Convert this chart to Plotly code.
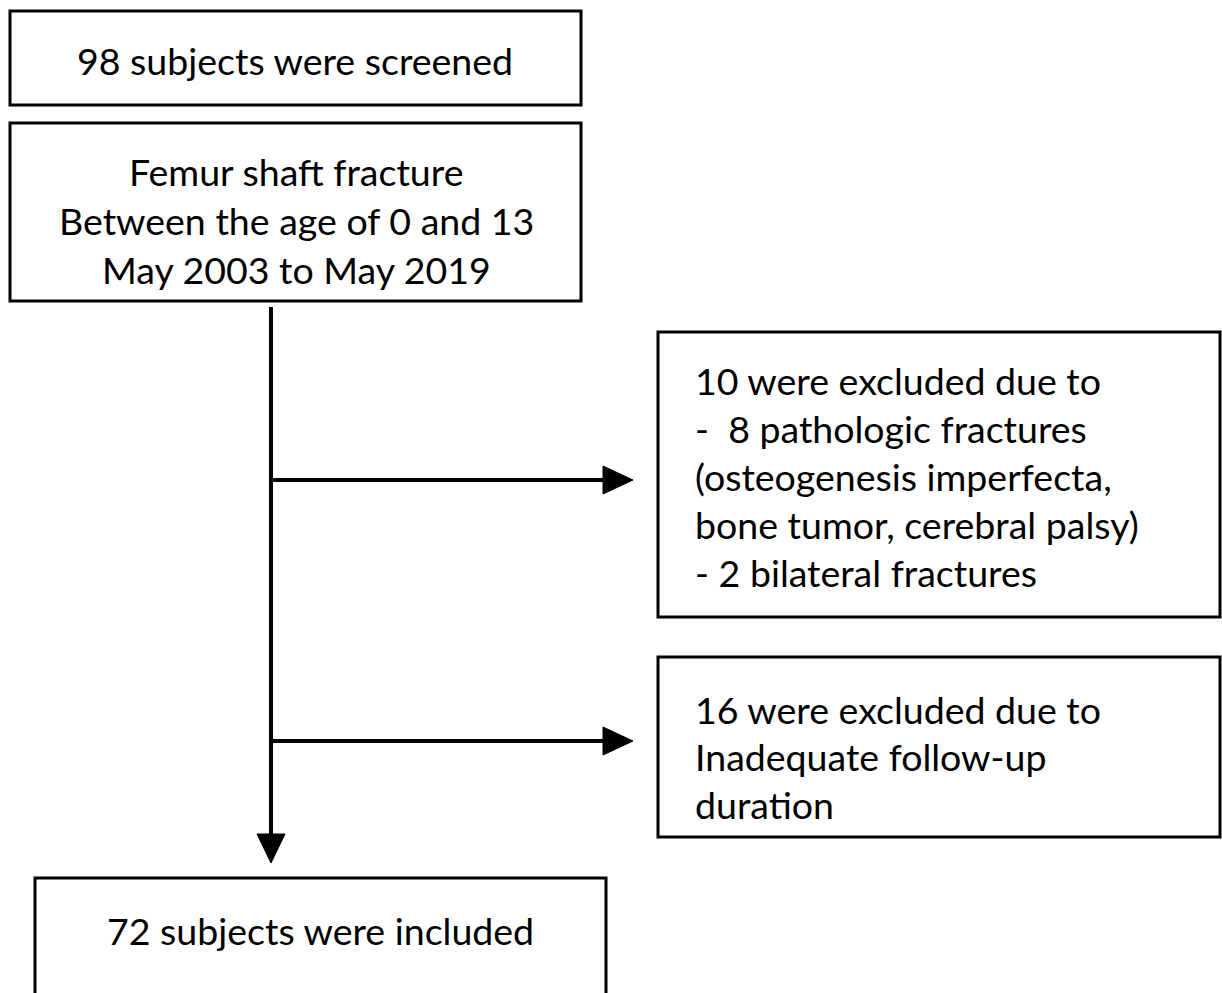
import plotly.graph_objects as go

# ---- content ----
box_screened = ["98 subjects were screened"]
box_criteria = ["Femur shaft fracture", "Between the age of 0 and 13", "May 2003 to May 2019"]
box_excl1 = ["10 were excluded due to", "-  8 pathologic fractures", "(osteogenesis imperfecta,",
             "bone tumor, cerebral palsy)", "- 2 bilateral fractures"]
box_excl2 = ["16 were excluded due to", "Inadequate follow-up", "duration"]
box_included = ["72 subjects were included"]

# ---- layout geometry (pixels) ----
W, H = 1222, 993
FONT = dict(family="Lato, Open Sans, sans-serif", size=37.5, color="black")

boxes = [
    # x0, y0, x1, y1, lines, align, text_x, first_y, spacing
    (10, 11, 581, 105, box_screened, "center", 295, 60, 49),
    (10, 123, 581, 301, box_criteria, "center", 296, 171, 49),
    (658, 332, 1220, 617, box_excl1, "left", 693, 380, 48),
    (658, 657, 1220, 837, box_excl2, "left", 693, 709, 47.5),
    (35, 878, 606, 1005, box_included, "center", 320, 930, 49),
]

shapes = []
annotations = []
for x0, y0, x1, y1, lines, align, tx, ty, sp in boxes:
    shapes.append(dict(type="rect", x0=x0, y0=y0, x1=x1, y1=y1, xref="x", yref="y",
                       line=dict(color="black", width=3), fillcolor="white", layer="below"))
    for i, t in enumerate(lines):
        annotations.append(dict(x=tx, y=ty + i * sp, xref="x", yref="y", text=t,
                                showarrow=False, font=FONT,
                                xanchor="center" if align == "center" else "left",
                                yanchor="middle"))

LW = 4
vx = 271
# vertical trunk
shapes.append(dict(type="line", x0=vx, y0=307, x1=vx, y1=836, xref="x", yref="y",
                   line=dict(color="black", width=LW)))
shapes.append(dict(type="path", path=f"M {vx-14} 834 L {vx+14} 834 L {vx} 863 Z",
                   xref="x", yref="y", fillcolor="black", line=dict(color="black", width=1)))
# horizontal branches
for hy in (480, 741):
    shapes.append(dict(type="line", x0=vx, y0=hy, x1=606, y1=hy, xref="x", yref="y",
                       line=dict(color="black", width=LW)))
    shapes.append(dict(type="path", path=f"M 603 {hy-14} L 603 {hy+14} L 633 {hy} Z",
                       xref="x", yref="y", fillcolor="black", line=dict(color="black", width=1)))

fig = go.Figure()
fig.update_layout(
    width=W, height=H, margin=dict(l=0, r=0, t=0, b=0),
    paper_bgcolor="white", plot_bgcolor="white",
    xaxis=dict(range=[0, W], visible=False, fixedrange=True),
    yaxis=dict(range=[H, 0], visible=False, fixedrange=True),
    shapes=shapes, annotations=annotations, showlegend=False,
)
fig.write_html("out.html", config={"displayModeBar": False},
               post_script="document.body.style.margin='0px';document.body.style.padding='0px';document.body.style.overflow='hidden';")
